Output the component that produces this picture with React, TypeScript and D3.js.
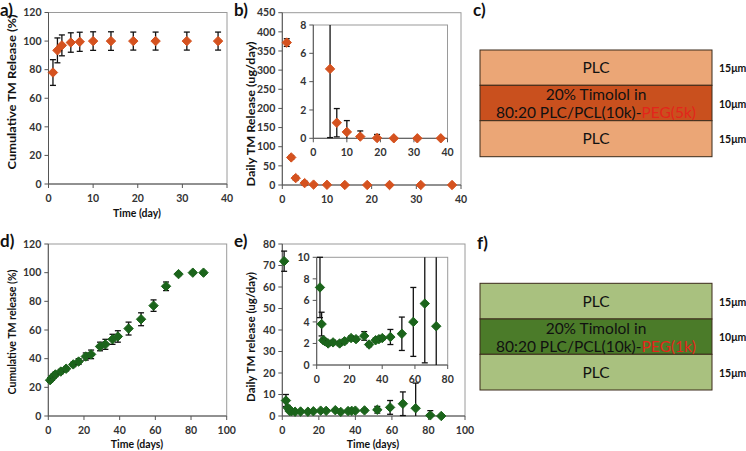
import React from "react";
import * as d3 from "d3";

// ---------- data ----------
const aDays = [1, 2, 3, 5, 7, 10, 14, 19, 24, 31, 38];
const aVals = [78, 93.5, 97, 99, 99.5, 100, 100, 100, 100, 100, 100];
const aErrs = [9, 8.7, 7.3, 6.8, 6.7, 6.5, 6.5, 6.3, 6.3, 6.3, 6.3];

const bDays = [1, 2, 3, 5, 7, 10, 14, 19, 24, 31, 38];
const bVals = [372, 72, 18, 4.9, 1.1, 0.45, 0.12, 0.02, 0, 0, 0];
const bErrs = [10, 5, 5, 4.85, 1.0, 0.8, 0.4, 0.25, 0, 0, 0];

const dDays = [1, 2, 3, 4, 7, 10, 14, 17, 21, 24, 29, 32, 36, 39, 45, 52, 59, 66, 73, 81, 87];
const dVals = [25, 26.5, 28, 29, 31, 33, 36, 38, 41.5, 43, 48.5, 50, 53.5, 55.5, 61, 67.5, 77, 90.5, 99, 100, 100];
const dErrs = [1.5, 1.5, 1.5, 1.5, 1.5, 1.5, 1.5, 2, 2.5, 3, 3, 3.5, 3.5, 4, 4.5, 4.5, 4, 3, 1, 1, 1];

const eDays = [1, 2, 3, 4, 5, 7, 10, 14, 17, 21, 24, 29, 32, 36, 38, 40, 45, 52, 59, 66, 73, 81, 87];
const eVals = [72, 7.2, 3.8, 2.3, 2.2, 2.0, 2.1, 2.0, 2.2, 2.5, 2.4, 2.7, 1.9, 2.3, 2.4, 2.5, 2.6, 2.9, 4.0, 5.7, 3.6, 0.3, 0];
const eErrs = [4.7, 2.8, 1.1, 0.2, 0.2, 0.2, 0.2, 0.2, 0.2, 0.2, 0.2, 0.4, 0.2, 0.2, 0.2, 0.2, 0.7, 1.55, 3.2, 5.5, 11.7, 2.2, 0.3];

const aYTicks = [0, 20, 40, 60, 80, 100, 120];
const aXTicks = [0, 10, 20, 30, 40];
const bYTicks = [0, 50, 100, 150, 200, 250, 300, 350, 400, 450];
const bInsetYTicks = [0, 2, 4, 6, 8];
const dXTicks = [0, 20, 40, 60, 80, 100];
const eYTicks = [0, 10, 20, 30, 40, 50, 60, 70, 80];
const eInsetYTicks = [0, 2, 4, 6, 8, 10];
const eInsetXTicks = [0, 20, 40, 60, 80];

const layerLabels = ["PLC", "20% Timolol in", "80:20 PLC/PCL(10k)-", "PLC"];
const thicknessLabels = ["15μm", "10μm", "15μm"];
const pegTop = "PEG(5k)";
const pegBottom = "PEG(1k)";

const FONT = "Lato, 'Open Sans', 'DejaVu Sans', sans-serif";
const ORANGE = "#D5521F";
const GREEN = "#1B641B";

type PanelProps = {
  x0: number; x1: number; y0: number; y1: number;
  xDomain: [number, number]; yDomain: [number, number];
  xTicks: number[]; yTicks: number[];
  days: number[]; vals: number[]; errs: number[];
  color: string; maxDay?: number;
};

function Scatter(p: PanelProps) {
  const x = d3.scaleLinear().domain(p.xDomain).range([p.x0, p.x1]);
  const y = d3.scaleLinear().domain(p.yDomain).range([p.y1, p.y0]);
  const r = 4.7;
  const diamond = (cx: number, cy: number) =>
    `M${cx},${cy - r}L${cx + r},${cy}L${cx},${cy + r}L${cx - r},${cy}Z`;
  const [ymin, ymax] = p.yDomain;
  return (
    <g>
      <rect x={p.x0} y={p.y0} width={p.x1 - p.x0} height={p.y1 - p.y0} fill="white" stroke="#9a9a9a" strokeWidth={1} />
      <line x1={p.x0} x2={p.x0} y1={p.y0} y2={p.y1} stroke="#555" strokeWidth={1} />
      <line x1={p.x0} x2={p.x1} y1={p.y1} y2={p.y1} stroke="#555" strokeWidth={1} />
      {p.yTicks.map((t) => (
        <g key={"y" + t}>
          <line x1={p.x0 - 4} x2={p.x0} y1={y(t)} y2={y(t)} stroke="#555" />
          <text x={p.x0 - 7} y={y(t)} dy="0.35em" textAnchor="end" fontSize={10.5} fontWeight={700} fill="#333" fontFamily={FONT}>{t}</text>
        </g>
      ))}
      {p.xTicks.map((t) => (
        <g key={"x" + t}>
          <line x1={x(t)} x2={x(t)} y1={p.y1} y2={p.y1 + 4} stroke="#555" />
          <text x={x(t)} y={p.y1 + 14} dy="0.35em" textAnchor="middle" fontSize={10.5} fontWeight={700} fill="#333" fontFamily={FONT}>{t}</text>
        </g>
      ))}
      {p.days.map((d, i) => {
        if (p.maxDay !== undefined && d >= p.maxDay) return null;
        const v = p.vals[i];
        if (v > ymax) return null;
        const e = p.errs[i];
        const cx = x(d);
        const hiRaw = v + e, loRaw = v - e;
        const hi = Math.min(hiRaw, ymax), lo = Math.max(loRaw, ymin);
        return (
          <g key={"p" + i}>
            {e > 0 && <line x1={cx} x2={cx} y1={y(hi)} y2={y(lo)} stroke="#111" strokeWidth={1.3} />}
            {e > 0 && hiRaw <= ymax && <line x1={cx - 3} x2={cx + 3} y1={y(hi)} y2={y(hi)} stroke="#111" strokeWidth={1.3} />}
            {e > 0 && loRaw >= ymin && <line x1={cx - 3} x2={cx + 3} y1={y(lo)} y2={y(lo)} stroke="#111" strokeWidth={1.3} />}
            <path d={diamond(cx, y(v))} fill={p.color} stroke={p.color} strokeWidth={1} strokeLinejoin="round" />
          </g>
        );
      })}
    </g>
  );
}

function YTitle({ x, y, text, len }: { x: number; y: number; text: string; len: number }) {
  return (
    <text transform={`translate(${x},${y}) rotate(-90)`} textAnchor="middle" dy="0.35em" fontSize={10.5} fontWeight={700} fill="#111" fontFamily={FONT}
      textLength={len} lengthAdjust="spacingAndGlyphs">{text}</text>
  );
}

function XTitle({ x, y, text }: { x: number; y: number; text: string }) {
  return (
    <text x={x} y={y} textAnchor="middle" dy="0.35em" fontSize={10.5} fontWeight={700} fill="#111" fontFamily={FONT}>{text}</text>
  );
}

function PanelLabel({ x, y, text }: { x: number; y: number; text: string }) {
  return <text x={x} y={y} fontSize={17} fontWeight={700} fill="#111" fontFamily={FONT}>{text}</text>;
}

function Layers({ x0, x1, ys, light, dark, peg }: { x0: number; x1: number; ys: number[]; light: string; dark: string; peg: string }) {
  const cx = (x0 + x1) / 2;
  const fills = [light, dark, light];
  const fs = 15.5;
  return (
    <g fontFamily={FONT}>
      {fills.map((f, i) => (
        <rect key={i} x={x0} y={ys[i]} width={x1 - x0} height={ys[i + 1] - ys[i]} fill={f} stroke="#3a2a1a" strokeWidth={1} />
      ))}
      <text x={cx} y={(ys[0] + ys[1]) / 2} dy="0.35em" textAnchor="middle" fontSize={fs} fill="#111">{layerLabels[0]}</text>
      <text x={cx} y={(ys[1] + ys[2]) / 2 - 8.5} dy="0.35em" textAnchor="middle" fontSize={fs} fill="#111">{layerLabels[1]}</text>
      <text x={cx} y={(ys[1] + ys[2]) / 2 + 9.5} dy="0.35em" textAnchor="middle" fontSize={fs} fill="#111">
        {layerLabels[2]}<tspan fill="#E3251B">{peg}</tspan>
      </text>
      <text x={cx} y={(ys[2] + ys[3]) / 2} dy="0.35em" textAnchor="middle" fontSize={fs} fill="#111">{layerLabels[3]}</text>
      {thicknessLabels.map((t, i) => (
        <text key={"t" + i} x={x1 + 7} y={(ys[i] + ys[i + 1]) / 2 + 1} dy="0.35em" fontSize={10.5} fontWeight={700} fill="#111">{t}</text>
      ))}
    </g>
  );
}

export default function App() {
  return (
    <svg width={746} height={451} style={{ position: "absolute", left: 0, top: 0, background: "white" }}>
      {/* a */}
      <PanelLabel x={0} y={16} text="a)" />
      <Scatter x0={48.5} x1={227} y0={12.5} y1={184} xDomain={[0, 40]} yDomain={[0, 120]} xTicks={aXTicks} yTicks={aYTicks}
        days={aDays} vals={aVals} errs={aErrs} color={ORANGE} />
      <YTitle x={12} y={92} text="Cumulative TM Release (%)" len={155} />
      <XTitle x={137} y={213} text="Time (day)" />

      {/* b */}
      <PanelLabel x={234} y={16} text="b)" />
      <Scatter x0={282.3} x1={461} y0={12.7} y1={185} xDomain={[0, 40]} yDomain={[0, 450]} xTicks={aXTicks} yTicks={bYTicks}
        days={bDays} vals={bVals} errs={bErrs} color={ORANGE} />
      <Scatter x0={313.3} x1={447.5} y0={25} y1={138.3} xDomain={[0, 40]} yDomain={[0, 8]} xTicks={aXTicks} yTicks={bInsetYTicks}
        days={bDays} vals={bVals} errs={bErrs} color={ORANGE} />
      <YTitle x={251} y={114} text="Daily TM Release (ug/day)" len={145} />

      {/* c */}
      <PanelLabel x={473} y={16} text="c)" />
      <Layers x0={480} x1={712} ys={[50, 85.3, 120.7, 156.7]} light="#EBA676" dark="#C9501E" peg={pegTop} />

      {/* d */}
      <PanelLabel x={0} y={247} text="d)" />
      <Scatter x0={48.3} x1={226.7} y0={244} y1={416} xDomain={[0, 100]} yDomain={[0, 120]} xTicks={dXTicks} yTicks={aYTicks}
        days={dDays} vals={dVals} errs={dErrs} color={GREEN} />
      <YTitle x={12} y={332} text="Cumulative TM release (%)" len={125} />
      <XTitle x={137} y={444} text="Time (days)" />

      {/* e */}
      <PanelLabel x={234} y={247} text="e)" />
      <Scatter x0={282.3} x1={465} y0={244} y1={416} xDomain={[0, 100]} yDomain={[0, 80]} xTicks={dXTicks} yTicks={eYTicks}
        days={eDays} vals={eVals} errs={eErrs} color={GREEN} />
      <Scatter x0={316.7} x1={447.7} y0={257.3} y1={365} xDomain={[0, 80]} yDomain={[0, 10]} xTicks={eInsetXTicks} yTicks={eInsetYTicks}
        days={eDays} vals={eVals} errs={eErrs} color={GREEN} maxDay={80} />
      <YTitle x={251} y={337} text="Daily TM release (ug/day)" len={130} />
      <XTitle x={373} y={444} text="Time (days)" />

      {/* f */}
      <PanelLabel x={477} y={249} text="f)" />
      <Layers x0={480} x1={712} ys={[283.3, 319, 354.3, 390]} light="#A9C17F" dark="#4B7B29" peg={pegBottom} />
    </svg>
  );
}
